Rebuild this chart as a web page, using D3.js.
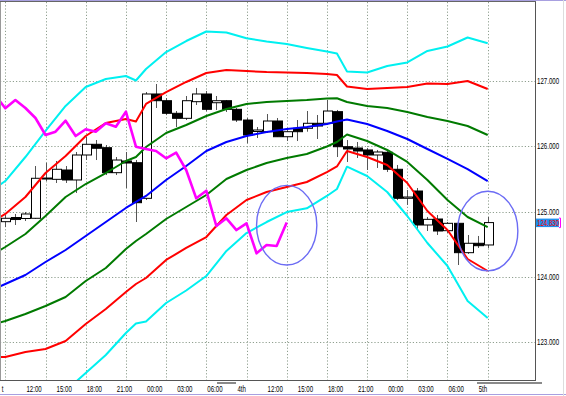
<!DOCTYPE html>
<html>
<head>
<meta charset="utf-8">
<script src="https://cdnjs.cloudflare.com/ajax/libs/d3/7.8.5/d3.min.js"></script>
<style>
  html, body { margin: 0; padding: 0; background: #fff; overflow: hidden; }
  svg { display: block; }
  text { font-family: "Liberation Sans", Arial, sans-serif; font-size: 8.5px; }
</style>
</head>
<body>
<svg id="chart" width="566" height="396"></svg>
<script>
// hourly candles, bar 0 .. 48 (last bar is the open one)
const opens  = [124.844,124.908,124.893,124.896,125.498,125.493,125.636,125.483,125.866,126.030,
                125.978,125.595,125.774,125.748,125.202,126.801,126.698,126.505,126.428,126.683,
                126.801,126.667,126.698,126.566,126.402,126.226,126.223,126.387,126.146,126.275,
                126.275,126.352,126.352,126.530,125.993,125.973,125.943,125.866,125.907,125.647,
                125.202,125.314,124.793,124.885,124.706,124.819,124.369,124.513,124.487];
const highs  = [124.946,124.962,124.992,125.697,125.743,125.774,125.697,125.912,126.142,126.096,
                126.019,125.835,125.912,125.789,126.831,126.954,126.739,126.540,126.770,126.893,
                126.847,126.770,126.709,126.586,126.433,126.295,126.494,126.433,126.264,126.402,
                126.540,126.479,126.709,126.556,126.096,126.065,125.973,125.943,125.943,125.713,
                125.330,125.360,124.916,124.946,124.839,124.839,124.640,124.625,124.916];
const lows   = [124.762,124.793,124.854,124.885,125.467,125.437,125.437,125.284,125.789,125.789,
                125.559,125.559,125.360,124.839,125.176,126.586,126.479,126.295,126.402,126.632,
                126.540,126.556,126.525,126.372,126.050,126.126,126.203,126.142,126.080,126.080,
                126.223,126.111,126.326,125.835,125.759,125.820,125.636,125.667,125.605,125.176,
                125.100,124.732,124.701,124.640,124.670,124.180,124.349,124.441,124.441];
const closes = [124.896,124.877,124.962,125.509,125.513,125.647,125.483,125.866,126.030,125.969,
                125.595,125.789,125.743,125.135,126.801,126.698,126.505,126.428,126.698,126.801,
                126.566,126.698,126.566,126.402,126.172,126.249,126.387,126.146,126.223,126.223,
                126.352,126.310,126.540,125.993,125.958,125.927,125.866,125.912,125.647,125.202,
                125.222,124.793,124.880,124.701,124.819,124.369,124.513,124.476,124.830];

// band readings, taken at these bars
const bandBars = [-1,0,2,4,6,8,10,12,13,14,16,18,20,22,24,26,28,30,32,33,34,36,38,40,42,44,46,48];
const upper3 = [125.360,125.467,125.835,126.234,126.617,126.908,127.031,127.077,127.008,127.184,
                127.444,127.613,127.759,127.743,127.654,127.605,127.567,127.506,127.452,127.421,
                127.146,127.130,127.230,127.284,127.460,127.529,127.667,127.578];
const upper2 = [124.870,124.962,125.222,125.590,125.851,126.157,126.356,126.418,126.379,126.648,
                126.831,126.985,127.123,127.169,127.153,127.138,127.130,127.123,127.107,127.092,
                126.916,126.877,126.893,126.908,126.962,126.954,127.000,126.877];
const upper1 = [124.364,124.456,124.655,124.931,125.222,125.421,125.590,125.774,125.835,125.989,
                126.203,126.326,126.464,126.571,126.648,126.678,126.693,126.709,126.732,126.735,
                126.678,126.617,126.586,126.525,126.448,126.387,126.310,126.172];
const middle = [123.820,123.889,124.027,124.226,124.410,124.625,124.839,125.054,125.146,125.238,
                125.483,125.697,125.927,126.065,126.157,126.218,126.264,126.295,126.341,126.379,
                126.410,126.341,126.234,126.111,125.958,125.805,125.651,125.467];
const lower1 = [123.276,123.322,123.429,123.552,123.690,123.935,124.134,124.425,124.548,124.655,
                124.885,125.069,125.253,125.498,125.636,125.743,125.820,125.881,125.996,126.065,
                126.180,126.080,125.943,125.759,125.483,125.176,124.916,124.762];
const lower2 = [122.770,122.770,122.847,122.893,123.015,123.276,123.506,123.766,123.889,123.981,
                124.257,124.441,124.609,124.946,125.176,125.299,125.375,125.452,125.605,125.690,
                125.927,125.835,125.713,125.437,125.008,124.716,124.272,124.088];
const lower3 = [null,null,null,null,122.249,122.525,122.801,123.138,123.284,123.314,
                123.598,123.789,124.011,124.395,124.670,124.839,124.992,125.049,125.238,125.345,
                125.687,125.544,125.299,124.931,124.517,124.165,123.628,123.368];

// lagging line, bars -1 .. 28
const lagBars = d3.range(-1, 29);
const lagSpan = [126.785,126.582,126.709,126.586,126.433,126.172,126.223,126.392,126.157,126.260,
                 126.223,126.352,126.300,126.530,125.993,125.958,125.927,125.815,125.901,125.636,
                 125.202,125.319,124.778,124.896,124.716,124.819,124.359,124.487,124.471,124.830];

const priceTicks = [123, 124, 125, 126, 127];
const gridBars = [0, 4, 8, 12, 16, 20, 24, 28, 32, 36, 40, 44, 48];
const timeBars = [2, 5, 8, 11, 14, 17, 20, 23, 26, 29, 32, 35, 38, 41, 44, 47];
const timeLabels = ["12:00","15:00","18:00","21:00","00:00","03:00","06:00","4th",
                    "12:00","15:00","18:00","21:00","00:00","03:00","06:00","5th"];
const lastPrice = 124.830;
const marks = [{bar: 28, price: 124.79}, {bar: 48, price: 124.70}];

const svg = d3.select("#chart");
const W = 566, H = 396, plotR = 535, plotT = 2, plotB = 380;
const squeeze = 0.72; // the terminal font is narrow

const x = d3.scaleLinear().domain([0, 48]).range([5.3, 487.7]);
const y = d3.scaleLinear().domain([123, 127]).range([342, 81]);

svg.append("defs").append("clipPath").attr("id", "plot")
  .append("rect").attr("x", 0).attr("y", plotT).attr("width", plotR).attr("height", plotB - plotT);

// grid
const grid = svg.append("g").attr("stroke", "#8f9f8f").attr("stroke-dasharray", "1.2,2").attr("stroke-width", 1);
grid.selectAll(".gx").data(gridBars).enter().append("line")
  .attr("x1", d => Math.round(x(d)) + 0.5).attr("x2", d => Math.round(x(d)) + 0.5)
  .attr("y1", plotT).attr("y2", plotB);
grid.selectAll(".gy").data(priceTicks).enter().append("line")
  .attr("x1", 0).attr("x2", plotR)
  .attr("y1", d => Math.round(y(d)) + 0.5).attr("y2", d => Math.round(y(d)) + 0.5);

const plot = svg.append("g").attr("clip-path", "url(#plot)");

// candles
const bars = d3.range(opens.length);
const candle = plot.selectAll(".c").data(bars).enter().append("g");
candle.append("line")
  .attr("x1", i => Math.round(x(i)) + 0.5).attr("x2", i => Math.round(x(i)) + 0.5)
  .attr("y1", i => y(highs[i])).attr("y2", i => y(lows[i]))
  .attr("stroke", "#555").attr("stroke-width", 1);
candle.append("rect")
  .attr("x", i => Math.round(x(i)) - 4 + 0.5)
  .attr("width", 9)
  .attr("y", i => y(Math.max(opens[i], closes[i])))
  .attr("height", i => Math.max(1, Math.abs(y(opens[i]) - y(closes[i]))))
  .attr("fill", i => closes[i] >= opens[i] ? "#fff" : "#000")
  .attr("stroke", "#000").attr("stroke-width", 1);

// bands
const line = d3.line().defined(d => d[1] != null).x(d => x(d[0])).y(d => y(d[1]));
const bands = [
  {v: upper3, c: "#00f0f0"}, {v: lower3, c: "#00f0f0"},
  {v: upper2, c: "#ff0000"}, {v: lower2, c: "#ff0000"},
  {v: upper1, c: "#007a00"}, {v: lower1, c: "#007a00"},
  {v: middle, c: "#0000ff"}
];
bands.forEach(b => {
  plot.append("path")
    .datum(bandBars.map((k, j) => [k, b.v[j]]))
    .attr("d", line)
    .attr("fill", "none").attr("stroke", b.c).attr("stroke-width", 2)
    .attr("stroke-linejoin", "round");
});

plot.append("path")
  .datum(lagBars.map((k, j) => [k, lagSpan[j]]))
  .attr("d", line)
  .attr("fill", "none").attr("stroke", "#ff00ff").attr("stroke-width", 2.6)
  .attr("stroke-linejoin", "round");

// hand-drawn circles
const barW = x(1) - x(0);
plot.selectAll(".m").data(marks).enter().append("ellipse")
  .attr("cx", d => x(d.bar)).attr("cy", d => y(d.price))
  .attr("rx", barW * 3).attr("ry", y(125) - y(125.61))
  .attr("fill", "none").attr("stroke", "#6c6cf4").attr("stroke-width", 1.4);

// frame
svg.append("line").attr("x1", 0).attr("x2", W).attr("y1", 0.5).attr("y2", 0.5).attr("stroke", "#a8a0e0");
svg.append("line").attr("x1", 0).attr("x2", plotR + 1).attr("y1", 1.5).attr("y2", 1.5).attr("stroke", "#666");
svg.append("line").attr("x1", 0.5).attr("x2", 0.5).attr("y1", plotT).attr("y2", plotB).attr("stroke", "#999");
svg.append("line").attr("x1", plotR + 0.5).attr("x2", plotR + 0.5).attr("y1", plotT).attr("y2", plotB + 1).attr("stroke", "#555");
svg.append("line").attr("x1", 0).attr("x2", plotR + 1).attr("y1", plotB + 0.5).attr("y2", plotB + 0.5).attr("stroke", "#555");
svg.append("line").attr("x1", 0).attr("x2", W).attr("y1", H - 1.5).attr("y2", H - 1.5).attr("stroke", "#a8a0e0");
svg.append("line").attr("x1", W - 2.5).attr("x2", W - 2.5).attr("y1", 0).attr("y2", H).attr("stroke", "#ddd");

// scroll markers under the time scale
svg.append("rect").attr("x", 217).attr("y", 382).attr("width", 19).attr("height", 2).attr("fill", "#8a8a8a");
svg.append("rect").attr("x", 477).attr("y", 382).attr("width", 65).attr("height", 2).attr("fill", "#8a8a8a");

// narrow label helper
function label(g, tx, ty, str, fill, anchor) {
  return g.append("text")
    .attr("transform", `translate(${tx},${ty}) scale(${squeeze},1)`)
    .attr("text-anchor", anchor || "start")
    .attr("fill", fill)
    .text(str);
}

// price scale
priceTicks.forEach(p => label(svg, plotR + 2, y(p) + 3, d3.format(".3f")(p), "#000"));

const ly = y(lastPrice);
svg.append("rect").attr("x", plotR + 1).attr("y", ly - 4).attr("width", 23).attr("height", 8.5).attr("fill", "#1e8ff0");
svg.append("path").attr("d", `M${plotR + 24},${ly - 4.5}h1.5v9.5h-1.5`).attr("fill", "none").attr("stroke", "#ff00ff");
label(svg, plotR + 2, ly + 3, d3.format(".3f")(lastPrice), "#ff0000");

// time scale
timeBars.forEach((b, j) => label(svg, x(b) + 1, 392, timeLabels[j], "#000"));
label(svg, 3.5, 392, "t", "#000", "end");
</script>
</body>
</html>
